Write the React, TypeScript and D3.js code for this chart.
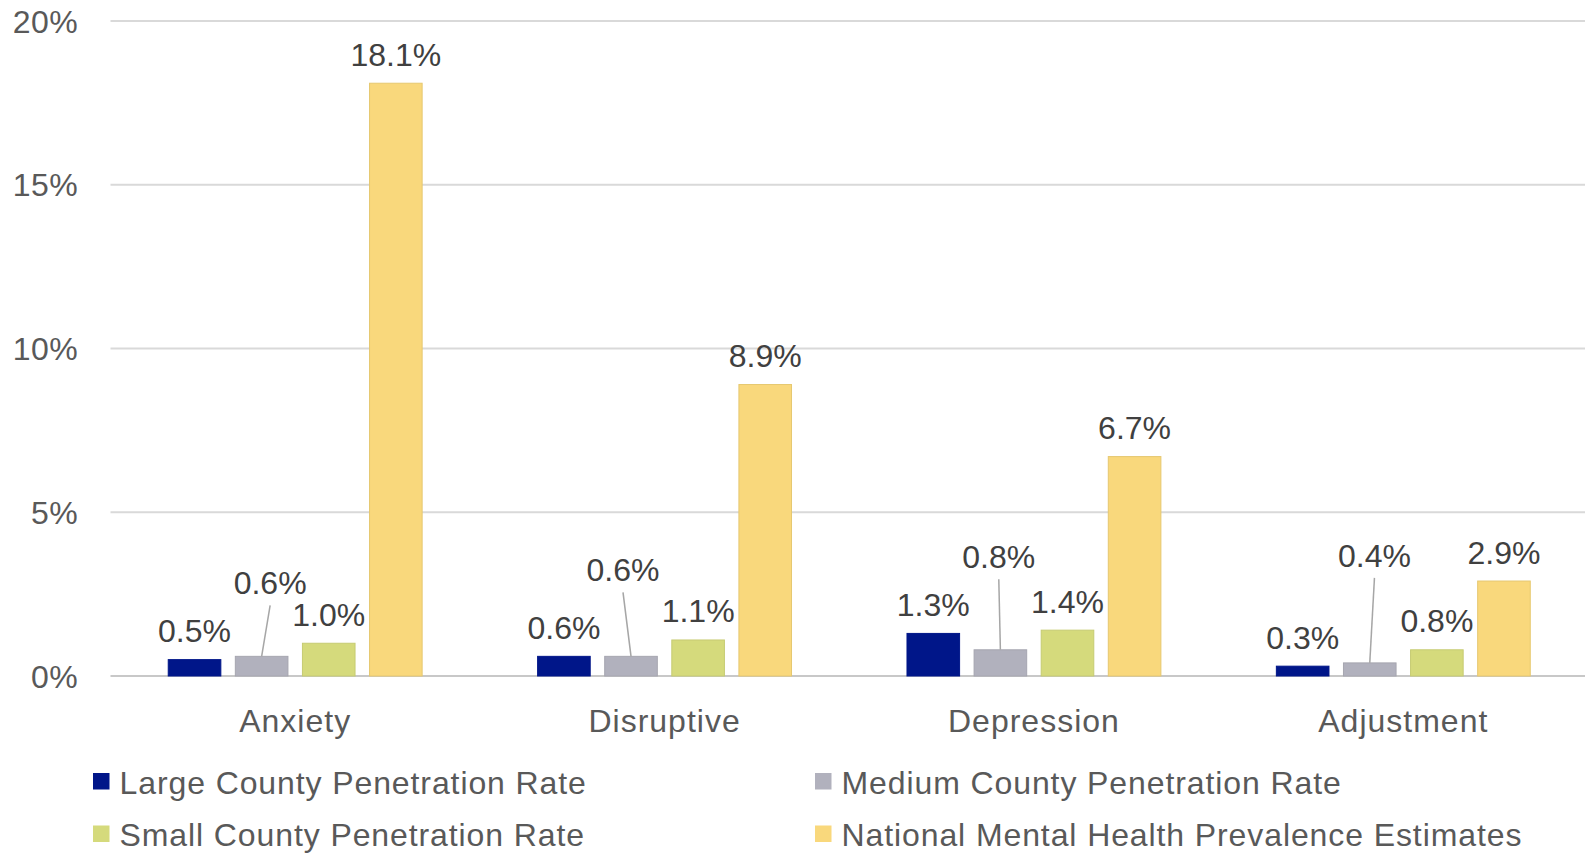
import React from "react";
import * as d3 from "d3";

const categories = ["Anxiety", "Disruptive", "Depression", "Adjustment"];
const seriesNames = [
  "Large County Penetration Rate",
  "Medium County Penetration Rate",
  "Small County Penetration Rate",
  "National Mental Health Prevalence Estimates",
];
const largeValues = [0.5, 0.6, 1.3, 0.3];
const mediumValues = [0.6, 0.6, 0.8, 0.4];
const smallValues = [1.0, 1.1, 1.4, 0.8];
const nationalValues = [18.1, 8.9, 6.7, 2.9];
const yTicks = [0, 5, 10, 15, 20];

const seriesValues = [largeValues, mediumValues, smallValues, nationalValues];
const colors = ["#001689", "#B1B1BD", "#D5DA7C", "#F9D87C"];
const strokes = ["#001689", "#A6A6B0", "#C6CB72", "#E6C870"];

// manual label offsets for the medium series (leader-line labels): [dx, dy from bar top]
const mediumLabelOffsets = [
  [8.5, -62],
  [-8, -75],
  [-1.6, -81.5],
  [4.7, -96],
];

const W = 1585;
const H = 853;
const FONT = "'Liberation Sans', Arial, sans-serif";

export default function App() {
  const x0 = d3.scaleBand<string>().domain(categories).range([110.5, 1588]).paddingInner(0).paddingOuter(0);
  const y = d3.scaleLinear().domain([0, 20]).range([676, 21]);
  const step = 67.1;
  const barW = 52.6;
  const groupW = step * 3 + barW;

  return (
    <svg
      width={W}
      height={H}
      style={{ position: "absolute", left: 0, top: 0, background: "#fff" }}
      fontFamily={FONT}
    >
      {yTicks.map((t) => (
        <g key={t}>
          <line
            x1={110.5}
            x2={W}
            y1={y(t)}
            y2={y(t)}
            stroke={t === 0 ? "#c8c8c8" : "#d9d9d9"}
            strokeWidth={2}
          />
          <text
            x={78}
            y={y(t)}
            dy="0.36em"
            textAnchor="end"
            fontSize={32}
            letterSpacing={0.4}
            fill="#595959"
          >
            {t}%
          </text>
        </g>
      ))}

      {categories.map((c, ci) => {
        const center = (x0(c) as number) + x0.bandwidth() / 2;
        const start = center - groupW / 2;
        return (
          <g key={c}>
            {seriesValues.map((vals, si) => {
              const v = vals[ci];
              const bx = start + si * step;
              const top = y(v);
              const cx = bx + barW / 2;
              let label;
              if (si === 1) {
                const [dx, dy] = mediumLabelOffsets[ci];
                const lx = cx + dx;
                const ly = top + dy;
                label = (
                  <g>
                    <line
                      x1={lx}
                      y1={ly + 11}
                      x2={cx}
                      y2={top}
                      stroke="#a6a6a6"
                      strokeWidth={1.5}
                    />
                    <text x={lx} y={ly} textAnchor="middle" fontSize={32} fill="#404040">
                      {v.toFixed(1)}%
                    </text>
                  </g>
                );
              } else {
                label = (
                  <text x={cx} y={top - 17.5} textAnchor="middle" fontSize={32} fill="#404040">
                    {v.toFixed(1)}%
                  </text>
                );
              }
              return (
                <g key={si}>
                  <rect
                    x={bx}
                    y={top}
                    width={barW}
                    height={y(0) - top}
                    fill={colors[si]}
                    stroke={strokes[si]}
                    strokeWidth={1}
                  />
                  {label}
                </g>
              );
            })}
            <text
              x={center}
              y={731.7}
              textAnchor="middle"
              fontSize={32}
              letterSpacing={1}
              fill="#595959"
            >
              {c}
            </text>
          </g>
        );
      })}

      {seriesNames.map((name, i) => {
        const col = i % 2;
        const row = Math.floor(i / 2);
        const sx = col === 0 ? 93 : 815;
        const baseY = row === 0 ? 793.5 : 846;
        return (
          <g key={name}>
            <rect x={sx} y={baseY - 20.5} width={16.5} height={16.5} fill={colors[i]} />
            <text x={sx + 26.5} y={baseY} fontSize={32} letterSpacing={0.9} fill="#595959">
              {name}
            </text>
          </g>
        );
      })}
    </svg>
  );
}
